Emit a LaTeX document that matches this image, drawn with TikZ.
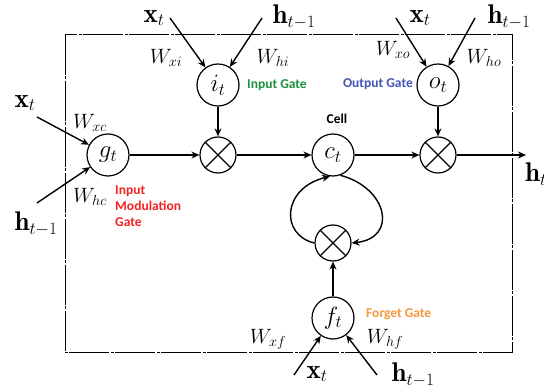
\documentclass[tikz,border=0pt]{standalone}
\usepackage{fontspec}
\usetikzlibrary{arrows.meta}
\newfontfamily\labfont{Carlito}
\definecolor{gGreen}{HTML}{1E9040}
\definecolor{gBlue}{HTML}{4354B4}
\definecolor{gRed}{HTML}{F52222}
\definecolor{gOrange}{HTML}{F7963A}
\begin{document}
\begin{tikzpicture}[x=1pt,y=-1pt,
  gate/.style={circle,draw,line width=1.2pt,minimum size=42pt,inner sep=0pt,font=\fontsize{24}{27}\selectfont},
  mult/.style={circle,draw,line width=1.2pt,minimum size=36pt,inner sep=0pt},
  arr/.style={line width=1.4pt,-{Stealth[length=8pt,width=7pt]}},
  big/.style={font=\fontsize{27}{30}\selectfont,inner sep=0pt},
  wlab/.style={font=\fontsize{20}{23}\selectfont,inner sep=0pt},
  glab/.style={font=\labfont\bfseries\fontsize{13.5}{16}\selectfont,inner sep=0pt,align=left}]
\useasboundingbox (0,0) rectangle (544,390);
% frame
\draw[line width=1pt,dash pattern=on 40pt off 1.5pt on 3pt off 1.5pt] (65,35) rectangle (512,353);
% nodes
\node[gate] (g) at (108,155) {$g_t$};
\node[gate] (i) at (218,85) {$i_t$};
\node[gate] (c) at (333,155) {$c_t$};
\node[gate] (o) at (438,85) {$o_t$};
\node[gate] (f) at (333,318) {$f_t$};
\node[mult] (m1) at (218,155) {};
\node[mult] (m2) at (438,155) {};
\node[mult] (m3) at (333,243) {};
\foreach \m in {m1,m2,m3}{
  \draw[line width=1.2pt] (\m.45) -- (\m.225);
  \draw[line width=1.2pt] (\m.135) -- (\m.315);
}
% input text
\node[big] (xi) at (154,18) {$\mathbf{x}_t$};
\node[big] (hi) at (294,17) {$\mathbf{h}_{t-1}$};
\node[big] (xo) at (420,18) {$\mathbf{x}_t$};
\node[big] (ho) at (509,17) {$\mathbf{h}_{t-1}$};
\node[big] (xg) at (25,103) {$\mathbf{x}_t$};
\node[big] (hg) at (36,224) {$\mathbf{h}_{t-1}$};
\node[big] (xf) at (317,374) {$\mathbf{x}_t$};
\node[big] (hf) at (413,375) {$\mathbf{h}_{t-1}$};
\node[big,anchor=west] (ht) at (525,174) {$\mathbf{h}_t$};
% weights
\node[wlab] (wxi) at (166,58) {$W_{xi}$};
\node[wlab] (whi) at (273,58) {$W_{hi}$};
\node[wlab] (wxo) at (393,50) {$W_{xo}$};
\node[wlab] (who) at (484,58) {$W_{ho}$};
\node[wlab] (wxc) at (90,123) {$W_{xc}$};
\node[wlab] (whc) at (90,197) {$W_{hc}$};
\node[wlab] (wxf) at (268,339) {$W_{xf}$};
\node[wlab] (whf) at (385,339) {$W_{hf}$};
% gate labels
\node[glab,text=gGreen,anchor=west] (lin) at (247,85) {Input Gate};
\node[glab,text=gBlue,anchor=east] (lout) at (413,84) {Output Gate};
\node[glab] (lcell) at (337,119) {Cell};
\node[glab,text=gRed,anchor=north west] (lmod) at (115,186) {Input\\Modulation\\Gate};
\node[glab,text=gOrange,anchor=west] (lfor) at (366,314) {Forget Gate};
% input arrow start points
\coordinate (sxi) at (170,18);
\coordinate (shi) at (262,18);
\coordinate (sxo) at (396,18);
\coordinate (sho) at (475,18);
\coordinate (sxg) at (37,117);
\coordinate (shg) at (37,203);
\coordinate (sxf) at (294,375);
\coordinate (shf) at (377,375);
\coordinate (eh) at (526,155);
\draw[arr] (sxi) -- (i);
\draw[arr] (shi) -- (i);
\draw[arr] (sxo) -- (o);
\draw[arr] (sho) -- (o);
\draw[arr] (sxg) -- (g);
\draw[arr] (shg) -- (g);
\draw[arr] (sxf) -- (f);
\draw[arr] (shf) -- (f);
% internal
\draw[arr] (g) -- (m1);
\draw[arr] (i) -- (m1);
\draw[arr] (m1) -- (c);
\draw[arr] (c) -- (m2);
\draw[arr] (o) -- (m2);
\draw[arr] (m2) -- (eh);
\draw[arr] (f) -- (m3);
\draw[arr] (m3.west) .. controls (280,235) and (282,188) .. (c.262);
\draw[arr] (c.290) .. controls (388,188) and (398,238) .. (m3.east);
\end{tikzpicture}
\end{document}
